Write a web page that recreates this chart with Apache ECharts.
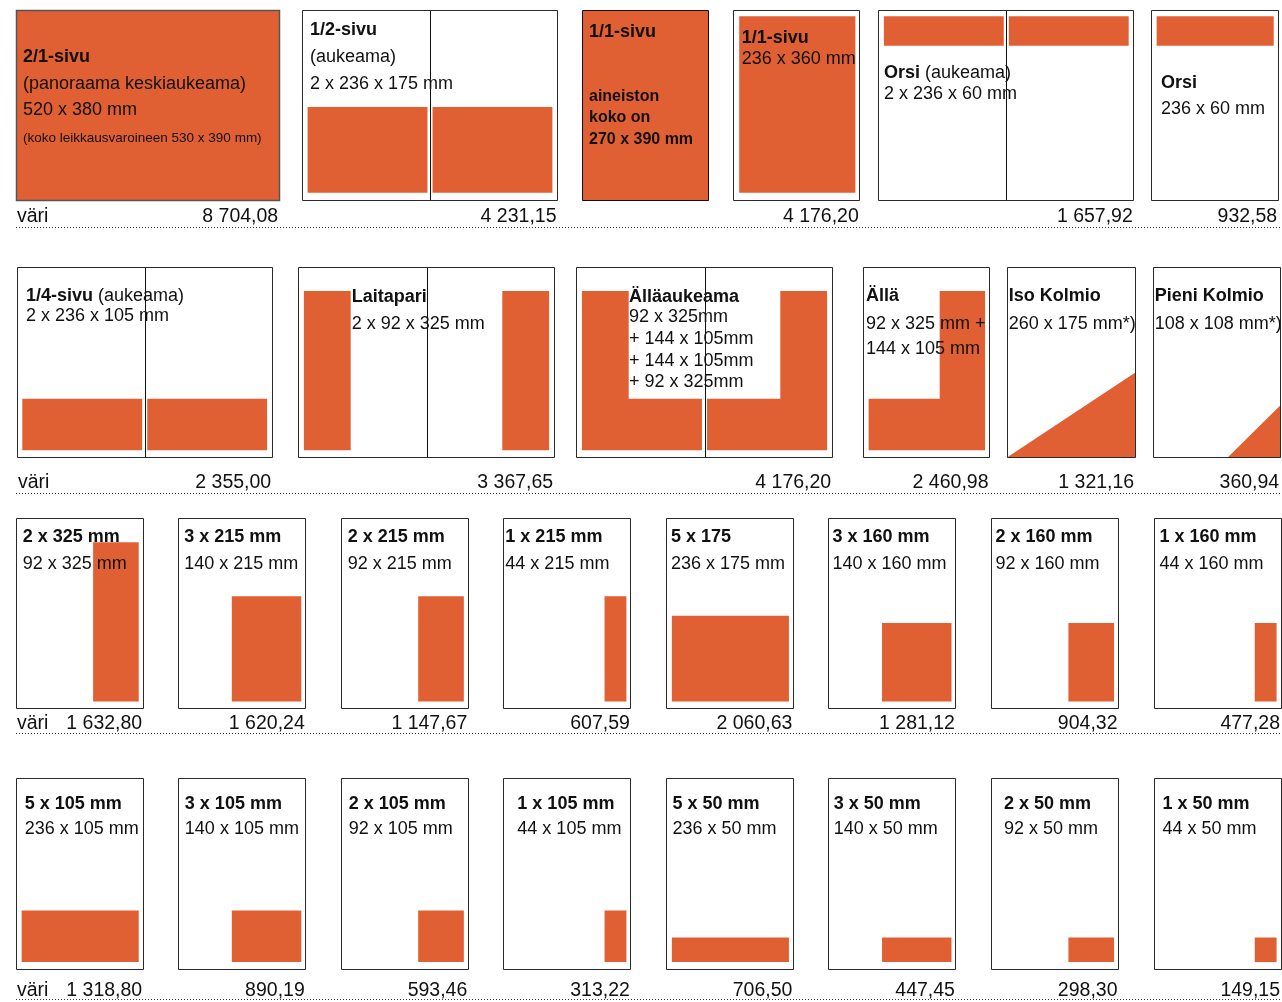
<!DOCTYPE html>
<html><head><meta charset="utf-8">
<script src="https://cdn.jsdelivr.net/npm/echarts@6/dist/echarts.min.js"></script>
<style>html,body{margin:0;padding:0;background:#fff}#c{width:1282px;height:1002px}</style>
</head><body><div id="c"></div>
<script>
// ================= DATA =================
const adNames = ['2/1-sivu','1/2-sivu','1/1-sivu','1/1-sivu','Orsi','Orsi',
  '1/4-sivu','Laitapari','Älläaukeama','Ällä','Iso Kolmio','Pieni Kolmio',
  '2 x 325 mm','3 x 215 mm','2 x 215 mm','1 x 215 mm','5 x 175','3 x 160 mm','2 x 160 mm','1 x 160 mm',
  '5 x 105 mm','3 x 105 mm','2 x 105 mm','1 x 105 mm','5 x 50 mm','3 x 50 mm','2 x 50 mm','1 x 50 mm'];
const adNameNotes = ['','','','',' (aukeama)','',' (aukeama)','','','','','',
  '','','','','','','','','','','','','','','',''];
const adSizeLines = [
  ['(panoraama keskiaukeama)','520 x 380 mm','(koko leikkausvaroineen 530 x 390 mm)'],
  ['(aukeama)','2 x 236 x 175 mm'],
  ['aineiston','koko on','270 x 390 mm'],
  ['236 x 360 mm'],
  ['2 x 236 x 60 mm'],
  ['236 x 60 mm'],
  ['2 x 236 x 105 mm'],
  ['2 x 92 x 325 mm'],
  ['92 x 325mm','+ 144 x 105mm','+ 144 x 105mm','+ 92 x 325mm'],
  ['92 x 325 mm +','144 x 105 mm'],
  ['260 x 175 mm*)'],
  ['108 x 108 mm*)'],
  ['92 x 325 mm'],['140 x 215 mm'],['92 x 215 mm'],['44 x 215 mm'],
  ['236 x 175 mm'],['140 x 160 mm'],['92 x 160 mm'],['44 x 160 mm'],
  ['236 x 105 mm'],['140 x 105 mm'],['92 x 105 mm'],['44 x 105 mm'],
  ['236 x 50 mm'],['140 x 50 mm'],['92 x 50 mm'],['44 x 50 mm']
];
const prices = ['8 704,08','4 231,15',null,'4 176,20','1 657,92','932,58',
  '2 355,00','3 367,65','4 176,20','2 460,98','1 321,16','360,94',
  '1 632,80','1 620,24','1 147,67','607,59','2 060,63','1 281,12','904,32','477,28',
  '1 318,80','890,19','593,46','313,22','706,50','447,45','298,30','149,15'];
const priceLabel = 'väri';
// ad sizes in millimetres (width, height)
const adWidthMm  = [520,236,270,236,236,236, 236,92,92,92,260,108, 92,140,92,44,236,140,92,44, 236,140,92,44,236,140,92,44];
const adHeightMm = [380,175,390,360,60,60, 105,325,325,325,175,108, 325,215,215,215,175,160,160,160, 105,105,105,105,50,50,50,50];
const ellFootMm = [144, 105];
const placements = ['bleed','bottom','bleed','bottom','top','top',
  'bottom','outer','ell','ell','corner','corner',
  'bottom','bottom','bottom','bottom','bottom','bottom','bottom','bottom',
  'bottom','bottom','bottom','bottom','bottom','bottom','bottom','bottom'];
const spreads = [true,true,false,false,true,false, true,true,true,false,false,false,
  false,false,false,false,false,false,false,false, false,false,false,false,false,false,false,false];

// ================= LAYOUT / STYLE =================
const ORANGE = '#E06033';
const INK = '#111';
const FONT = '"Liberation Sans", Arial, sans-serif';
const SG = {w: 258, left: 12, right: 10};      // single page (mm)
const SP = {w: 252, out: 11, inn: 5};          // page inside a spread (mm)
const PAGE = {h: 390, top: 14, bottom: 16};
const ROWS = [
  {top: 9.5, height: 191, priceY: 217, ruleY: 227.5},
  {top: 267, height: 191, priceY: 483, ruleY: 493.5},
  {top: 518.3, height: 191, priceY: 724, ruleY: 733.5},
  {top: 778, height: 192, priceY: 990.5, ruleY: 999.5}
];
const BOX_LEFT = [15.7,302,581.7,733.3,878.3,1150.7, 16.7,298.3,576.3,862.7,1007.3,1152.7];
const BOX_W = [264,256,127.6,127,256,128, 256,256.4,256.4,127.3,128.4,128];
for (let r = 0; r < 2; r++) for (let k = 0; k < 8; k++) { BOX_LEFT.push(15.7 + k * 162.55); BOX_W.push(128); }
const TEXT_DX = [7.3,8,7.3,8.4,5.7,10.3, 9.3,53.4,52.7,3.3,1.4,2,
  7,6,7,2,5,4,4.5,6, 9,6.6,8,14,6.5,5.2,13,9];
const TEXT_YS = [[47.5,74.5,100.5,128.5],[20.5,47.5,74.5],[22.5,87,108.5,130],[29,50],[64,84.5],[73.5,100],
  [29,49],[29.7,56.8],[30,50.5,72.5,93.8,114.7],[29,57,82.5],[29,57],[29,57]];
for (let k = 0; k < 8; k++) TEXT_YS.push([18.4,45.5]);
for (let k = 0; k < 8; k++) TEXT_YS.push([25.7,51.4]);
const LINE_STYLE = {0: [null, null, 'small'], 2: ['boldSmall','boldSmall','boldSmall']};
const STYLES = {
  body: {fontSize: 18, fontWeight: 'normal'},
  title: {fontSize: 18, fontWeight: 'bold'},
  small: {fontSize: 13.5, fontWeight: 'normal'},
  boldSmall: {fontSize: 16, fontWeight: 'bold'}
};
const BORDER = {0: '#555', 2: '#111'};

function rowOf(i) { return i < 6 ? 0 : i < 12 ? 1 : i < 20 ? 2 : 3; }
function firstInRow(i) { return i === 0 || i === 6 || i === 12 || i === 20; }
function pageWidth(i) { return spreads[i] ? 2 * SP.w : SG.w; }

function adPolygons(i) {
  const W = pageWidth(i), H = PAGE.h;
  const w = adWidthMm[i], h = adHeightMm[i], kind = placements[i];
  const T = PAGE.top, B = H - PAGE.bottom;
  const rect = (x0, y0, x1, y1) => [[x0,y0],[x1,y0],[x1,y1],[x0,y1]];
  const polys = [];
  if (kind === 'bleed') return polys;
  if (kind === 'corner') {
    if (w <= W) polys.push([[W - w, H],[W, H],[W, H - h]]);
    else polys.push([[0, H],[W, H],[W, H - h],[0, H - h * (w - W) / w]]);
    return polys;
  }
  const areas = spreads[i] ? [[SP.out, SP.w - SP.inn, true], [SP.w + SP.inn, 2 * SP.w - SP.out, false]]
                           : [[SG.left, SG.w - SG.right, false]];
  areas.forEach(a => {
    const L = a[0], R = a[1], leftOuter = a[2];
    if (kind === 'bottom') polys.push(rect(R - w, B - h, R, B));
    else if (kind === 'top') polys.push(rect(R - w, T, R, T + h));
    else if (kind === 'outer') polys.push(leftOuter ? rect(L, B - h, L + w, B) : rect(R - w, B - h, R, B));
    else if (kind === 'ell') {
      const fw = ellFootMm[0], fh = ellFootMm[1];
      if (leftOuter) polys.push([[L,B-h],[L+w,B-h],[L+w,B-fh],[L+w+fw,B-fh],[L+w+fw,B],[L,B]]);
      else polys.push([[R-w,B-h],[R,B-h],[R,B],[R-w-fw,B],[R-w-fw,B-fh],[R-w,B-fh]]);
    }
  });
  return polys;
}

function textEl(x, y, text, st, align, rich) {
  const style = {x: x, y: y, text: text, fill: INK, fontFamily: FONT,
    fontSize: st.fontSize, fontWeight: st.fontWeight,
    align: align, textAlign: align, verticalAlign: 'middle', textVerticalAlign: 'middle'};
  if (rich) style.rich = rich;
  return {type: 'text', silent: true, style: style};
}

function makeRender(i) {
  return function (params, api) {
    const W = pageWidth(i), H = PAGE.h;
    const c = (x, y) => api.coord([x, y]);
    const tl = c(0, 0), br = c(W, H);
    const x0 = Math.round(tl[0]) + 0.5, y0 = Math.round(tl[1]) + 0.5;
    const x1 = Math.round(br[0]) - 0.5, y1 = Math.round(br[1]) - 0.5;
    const kids = [];
    const bleed = placements[i] === 'bleed';
    kids.push({type: 'rect', shape: {x: x0, y: y0, width: x1 - x0, height: y1 - y0},
      style: {fill: bleed ? ORANGE : '#fff', stroke: null}});
    adPolygons(i).forEach(p => {
      kids.push({type: 'polygon', shape: {points: p.map(q => c(q[0], q[1]))}, style: {fill: ORANGE}});
    });
    const ys = TEXT_YS[i], dx = TEXT_DX[i];
    const lines = [adNames[i]].concat(adSizeLines[i]);
    lines.forEach((ln, k) => {
      const ty = tl[1] + ys[k], tx = tl[0] + dx;
      if (k === 0) {
        if (adNameNotes[i]) {
          kids.push(textEl(tx, ty, '{b|' + ln + '}{r|' + adNameNotes[i] + '}', STYLES.body, 'left', {
            b: {fontFamily: FONT, fontSize: 18, fontWeight: 'bold', fill: INK},
            r: {fontFamily: FONT, fontSize: 18, fontWeight: 'normal', fill: INK}
          }));
        } else kids.push(textEl(tx, ty, ln, STYLES.title, 'left'));
      } else {
        const ov = LINE_STYLE[i] && LINE_STYLE[i][k - 1];
        kids.push(textEl(tx, ty, ln, STYLES[ov || 'body'], 'left'));
      }
    });
    if (spreads[i] && !bleed) {
      const mx = Math.round(c(SP.w, 0)[0]) + 0.5;
      kids.push({type: 'line', shape: {x1: mx, y1: y0, x2: mx, y2: y1}, style: {stroke: INK, lineWidth: 1}});
    }
    kids.push({type: 'rect', shape: {x: x0, y: y0, width: x1 - x0, height: y1 - y0},
      style: {fill: null, stroke: BORDER[i] || '#2a2a2a', lineWidth: i === 0 ? 1.5 : 1}});
    const row = ROWS[rowOf(i)];
    const pst = {fontSize: 19.5, fontWeight: 'normal'};
    if (prices[i]) kids.push(textEl(br[0] - 1.5, row.priceY, prices[i], pst, 'right'));
    if (firstInRow(i)) kids.push(textEl(tl[0] + 1.2, row.priceY, priceLabel, pst, 'left'));
    return {type: 'group', children: kids};
  };
}

const option = {animation: false, grid: [], xAxis: [], yAxis: [], series: [],
  graphic: {elements: ROWS.map(r => ({type: 'line', silent: true,
    shape: {x1: 16, y1: r.ruleY, x2: 1280, y2: r.ruleY},
    style: {stroke: '#333', lineWidth: 1, lineDash: [1, 2]}}))}};
for (let i = 0; i < adNames.length; i++) {
  const row = ROWS[rowOf(i)];
  option.grid.push({left: BOX_LEFT[i], top: row.top, width: BOX_W[i], height: row.height, show: false});
  option.xAxis.push({gridIndex: i, type: 'value', min: 0, max: pageWidth(i), show: false});
  option.yAxis.push({gridIndex: i, type: 'value', min: 0, max: PAGE.h, inverse: true, show: false});
  option.series.push({type: 'custom', xAxisIndex: i, yAxisIndex: i, silent: true, clip: false,
    data: [[0, 0]], renderItem: makeRender(i)});
}
const chart = echarts.init(document.getElementById('c'), null, {renderer: 'canvas'});
chart.setOption(option);
</script></body></html>
